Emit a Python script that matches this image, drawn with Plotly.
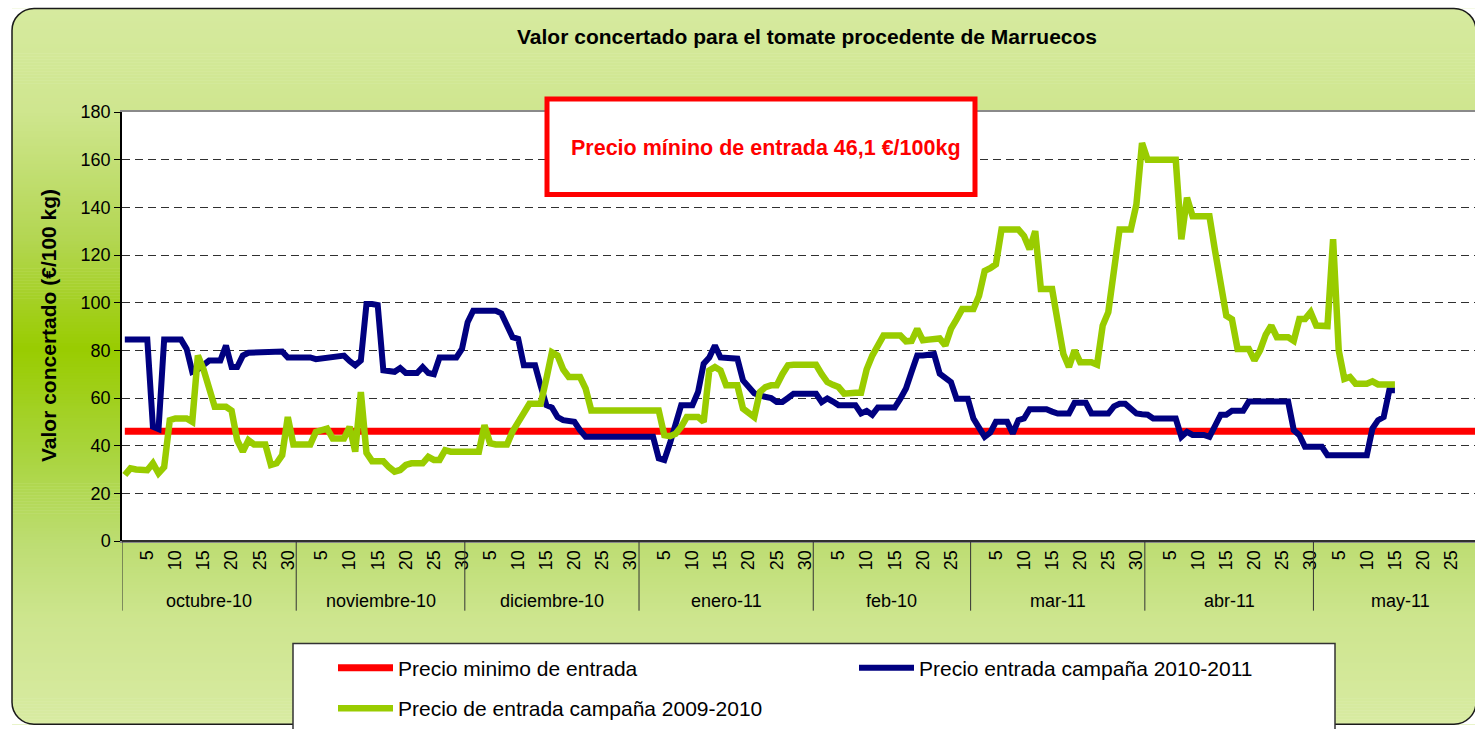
import plotly.graph_objects as go

FONT = "Liberation Sans, Arial, sans-serif"

# ---------------- data ----------------
months = ["octubre-10", "noviembre-10", "diciembre-10", "enero-11",
          "feb-10", "mar-11", "abr-11", "may-11"]
month_days = [31, 30, 31, 31, 28, 31, 30, 31]
min_price = 46.1

blue_oct = [84.5, 84.5, 84.5, 84.5, 84.5, 48, 47, 84.5, 84.5, 84.5, 84.5, 80.6, 71, 72, 74, 75.7,
            75.7, 75.7, 82, 73, 73, 77.8, 79, 79, 79, 79.2, 79.4, 79.5, 79.5, 77, 77]
blue_nov = [77, 77, 77, 76.3, 76.5, 76.8, 77, 77.3, 77.8, 75.5, 73.7, 75.7, 99.4, 99.4, 99,
            71.6, 71.3, 71, 72.6, 70.5, 70.5, 70.5, 73, 70.5, 70, 77, 77, 77, 77, 80.6]
blue_dec = [91.8, 96.6, 96.6, 96.6, 96.6, 96.6, 95.5, 90, 85.5, 84.8, 73.7, 73.7, 73.7, 65, 57,
            56, 52, 50.7, 50.5, 50, 46.5, 43.7, 43.7, 43.7, 43.7, 43.7, 43.7, 43.7, 43.7, 43.7, 43.7]
blue_jan = [43.7, 43.7, 43.7, 34.7, 34, 41, 49, 57, 57, 57, 62.5, 74.4, 77, 82, 77, 76.8,
            76.8, 76.5, 67.4, 64.8, 62, 61, 60.5, 60, 58.3, 58.3, 60, 61.8, 61.8, 61.8, 61.8]
blue_feb = [61.8, 58.3, 59.8, 58.5, 57, 57, 57, 57, 53.5, 54.6, 52.9, 56, 56, 56, 56, 59.7,
            64, 71, 77.8, 77.8, 77.8, 78.4, 70.2, 68.8, 66.7, 59.7, 59.7, 59.7]
blue_mar = [51.4, 47.5, 43.7, 45.5, 50, 50, 50, 45.1, 50.7, 51.4, 55.3, 55.3, 55.3, 55.3, 54.3,
            53.5, 53.5, 53.5, 58, 58, 58, 53.5, 53.5, 53.5, 53.5, 56.5, 57.6, 57.6, 55.5, 53.5, 53.2]
blue_apr = [53, 51.4, 51.4, 51.4, 51.4, 51.4, 43.7, 45.8, 44.5, 44.5, 44.5, 43.7, 48.5, 53, 53,
            54.6, 54.6, 54.6, 58.5, 58.5, 58.5, 58.5, 58.5, 58.5, 58.5, 58.5, 46.5, 44.4, 39.5, 39.5]
blue_may = [39.5, 39.5, 36, 36, 36, 36, 36, 36, 36, 36, 47.2, 50.7, 52, 63.2, 63.2]

green_oct = [27.7, 30.5, 30, 30, 29.7, 32.6, 28.4, 31, 50.7, 51.4, 51.4, 51.4, 50, 77.8, 72, 64,
             56.3, 56.3, 56.3, 54.7, 42.3, 37.5, 42.3, 40.5, 40.5, 40.5, 31.9, 32.6, 36, 52, 40.5]
green_nov = [40.5, 40.5, 40.5, 45.8, 46.5, 47.2, 43, 43, 43, 47.9, 37.5, 62.5, 37, 33.5, 33.5,
             33.5, 31, 29.1, 29.8, 31.9, 32.6, 32.6, 32.6, 35.3, 34, 34, 38.1, 37.5, 37.5, 37.5]
green_dec = [37.5, 37.5, 37.5, 48.6, 41, 40.5, 40.5, 40.5, 46, 50, 53.5, 57.6, 57.6, 57.6, 68,
             79.2, 77.8, 72, 68.8, 68.8, 68.8, 63.9, 54.8, 54.8, 54.8, 54.8, 54.8, 54.8, 54.8, 54.8, 54.8]
green_jan = [54.8, 54.8, 54.8, 54.8, 44.4, 44, 45, 47.9, 52, 52, 52, 50, 71.6, 73, 71.6, 65.3,
             65.3, 65.3, 55.6, 53.5, 52, 62.5, 64.6, 65.3, 65.3, 70, 73.7, 73.9, 73.9, 73.9, 73.9]
green_feb = [73.9, 70, 66.7, 65.5, 64.6, 61.8, 62.2, 62.2, 62.2, 72, 77.8, 82, 86.2, 86.2, 86.2,
             86.2, 83.8, 84, 89, 84.2, 84.5, 84.8, 85, 82, 89, 93, 97.3, 97.3]
green_mar = [97.3, 102.9, 113.3, 114.5, 116.1, 130.7, 130.7, 130.7, 130.7, 128, 122.4, 130, 105.7,
             105.7, 105.7, 92, 78.5, 73, 80, 75, 75, 75, 74, 90.4, 96, 113, 130.7, 130.7, 130.7,
             141.2, 167]
green_apr = [160, 160, 160, 160, 160, 160, 126.6, 144, 136.3, 136.3, 136.3, 136.3, 121.7, 108,
             94.5, 93, 80.6, 80.6, 80.6, 75.8, 80, 86.5, 90.4, 85.5, 85.5, 85.5, 84, 93.1, 93.1, 96]
green_may = [90.4, 90.2, 90.2, 126.6, 80, 68, 68.8, 66, 66, 66, 67, 65.7, 65.7, 65.7, 65.7]

day_ticks = [5, 10, 15, 20, 25, 30]

# ---------------- derived series ----------------
blue = blue_oct + blue_nov + blue_dec + blue_jan + blue_feb + blue_mar + blue_apr + blue_may
green = green_oct + green_nov + green_dec + green_jan + green_feb + green_mar + green_apr + green_may
n_days = sum(month_days)
x_all = list(range(n_days))
red = [min_price] * n_days

month_start = []
s = 0
for d in month_days:
    month_start.append(s)
    s += d

tickvals, ticktext = [], []
for ms, d in zip(month_start, month_days):
    for t in day_ticks:
        if t <= d:
            tickvals.append(ms + t - 1)
            ticktext.append(str(t))

# ---------------- geometry helpers ----------------
W, H = 1475, 729
PL, PR, PT, PB = 122, 1475, 112, 543


def fx(px):
    return (px - PL) / (PR - PL)


def fy(py):
    return (PB - py) / (PB - PT)


def P(px, py):
    return f"{fx(px):.5f},{fy(py):.5f}"


fig = go.Figure()

fig.add_trace(go.Scatter(x=x_all, y=red, mode="lines", name="Precio minimo de entrada",
                         line=dict(color="#FF0000", width=7), legend="legend"))
fig.add_trace(go.Scatter(x=x_all[:len(blue)], y=blue, mode="lines",
                         name="Precio entrada campaña 2010-2011",
                         line=dict(color="#000080", width=6), legend="legend3"))
fig.add_trace(go.Scatter(x=x_all[:len(green)], y=green, mode="lines",
                         name="Precio de entrada campaña 2009-2010",
                         line=dict(color="#99CC00", width=6.5), legend="legend2"))

shapes = []

# background gradient (style only)
stops = [(8, (0xd6, 0xea, 0x9f)), (110, (0xcf, 0xe6, 0x8f)), (240, (0xb3, 0xd6, 0x52)),
         (350, (0x99, 0xcc, 0x00)), (450, (0xa8, 0xd4, 0x3a)), (545, (0xbd, 0xdd, 0x72)),
         (620, (0xcd, 0xe5, 0x8e)), (727, (0xd8, 0xeb, 0xa2))]


def col_at(y):
    for (y0, c0), (y1, c1) in zip(stops[:-1], stops[1:]):
        if y0 <= y <= y1:
            t = (y - y0) / (y1 - y0)
            return "rgb(%d,%d,%d)" % tuple(round(a + (b - a) * t) for a, b in zip(c0, c1))
    return "rgb(%d,%d,%d)" % stops[-1][1]


BX0, BY0, BX1, BY1, R = 12, 8, 1476, 727, 22
step = 3
y = BY0
while y < BY1:
    y2 = min(y + step, BY1)
    shapes.append(dict(type="rect", xref="paper", yref="paper", layer="below",
                       x0=fx(BX0), x1=fx(BX1), y0=fy(y2 + 0.6), y1=fy(y),
                       fillcolor=col_at(y + step / 2), line=dict(width=0)))
    y = y2

k = 0.448
corner_masks = [
    f"M{P(BX0, BY0)} L{P(BX0 + R, BY0)} C{P(BX0 + R * k, BY0)} {P(BX0, BY0 + R * k)} {P(BX0, BY0 + R)} Z",
    f"M{P(BX1, BY0)} L{P(BX1, BY0 + R)} C{P(BX1, BY0 + R * k)} {P(BX1 - R * k, BY0)} {P(BX1 - R, BY0)} Z",
    f"M{P(BX1, BY1)} L{P(BX1 - R, BY1)} C{P(BX1 - R * k, BY1)} {P(BX1, BY1 - R * k)} {P(BX1, BY1 - R)} Z",
    f"M{P(BX0, BY1)} L{P(BX0, BY1 - R)} C{P(BX0, BY1 - R * k)} {P(BX0 + R * k, BY1)} {P(BX0 + R, BY1)} Z",
]
for pth in corner_masks:
    shapes.append(dict(type="path", xref="paper", yref="paper", layer="below", path=pth,
                       fillcolor="white", line=dict(width=0)))

border = (f"M{P(BX0 + R, BY0)} L{P(BX1 - R, BY0)} "
          f"C{P(BX1 - R * k, BY0)} {P(BX1, BY0 + R * k)} {P(BX1, BY0 + R)} "
          f"L{P(BX1, BY1 - R)} C{P(BX1, BY1 - R * k)} {P(BX1 - R * k, BY1)} {P(BX1 - R, BY1)} "
          f"L{P(BX0 + R, BY1)} C{P(BX0 + R * k, BY1)} {P(BX0, BY1 - R * k)} {P(BX0, BY1 - R)} "
          f"L{P(BX0, BY0 + R)} C{P(BX0, BY0 + R * k)} {P(BX0 + R * k, BY0)} {P(BX0 + R, BY0)} Z")
shapes.append(dict(type="path", xref="paper", yref="paper", layer="below", path=border,
                   line=dict(color="#1a1a1a", width=1.5)))

# white plot area
shapes.append(dict(type="rect", xref="paper", yref="paper", layer="below",
                   x0=0, x1=1, y0=0, y1=1, fillcolor="white", line=dict(width=0)))

# legend box
shapes.append(dict(type="rect", xref="paper", yref="paper", layer="below",
                   x0=fx(293), x1=fx(1335), y0=fy(745), y1=fy(646),
                   fillcolor="white", line=dict(color="#333333", width=1.5)))

# month separators under the axis
for ms in month_start + [n_days]:
    shapes.append(dict(type="line", xref="x", yref="paper", x0=ms - 0.5, x1=ms - 0.5,
                       y0=fy(543), y1=fy(613), line=dict(color="#333333", width=1)))

# darker bottom axis line (top border stays grey)
shapes.append(dict(type="line", xref="paper", yref="paper", layer="above",
                   x0=0, x1=1, y0=0, y1=0, line=dict(color="#303030", width=2)))

# annotation box
shapes.append(dict(type="rect", xref="paper", yref="paper", layer="above",
                   x0=fx(547), x1=fx(975), y0=fy(195), y1=fy(99),
                   fillcolor="white", line=dict(color="#FF0000", width=5)))

annotations = [
    dict(text="<b>Valor concertado para el tomate procedente de Marruecos</b>",
         xref="paper", yref="paper", x=fx(807), y=fy(36), xanchor="center", yanchor="middle",
         showarrow=False, font=dict(family=FONT, size=21, color="black")),
    dict(text="<b>Valor concertado (€/100 kg)</b>", textangle=-90,
         xref="paper", yref="paper", x=fx(48), y=fy(327), xanchor="center", yanchor="middle",
         showarrow=False, font=dict(family=FONT, size=21, color="black")),
    dict(text="<b>Precio mínino de entrada 46,1 €/100kg</b>",
         xref="paper", yref="paper", x=fx(766), y=fy(148), xanchor="center", yanchor="middle",
         showarrow=False, font=dict(family=FONT, size=21.5, color="#FF0000")),
]
for ms, d, name in zip(month_start, month_days, months):
    annotations.append(dict(text=name, xref="x", yref="paper", x=ms + d / 2 - 0.5, y=fy(603),
                            xanchor="center", yanchor="middle", showarrow=False,
                            font=dict(family=FONT, size=18, color="black")))

leg_common = dict(orientation="h", xanchor="left", yanchor="top", itemwidth=55,
                  bgcolor="rgba(0,0,0,0)", font=dict(family=FONT, size=21, color="black"))

fig.update_layout(
    width=W, height=H,
    margin=dict(l=PL, r=W - PR, t=PT, b=H - PB, pad=0),
    paper_bgcolor="white", plot_bgcolor="white",
    font=dict(family=FONT, color="black"),
    showlegend=True,
    shapes=shapes, annotations=annotations,
    xaxis=dict(range=[-0.5, 240.25], tickmode="array", tickvals=tickvals, ticktext=ticktext,
               tickangle=-90, tickfont=dict(family=FONT, size=18), ticks="",
               showgrid=False, zeroline=False, showline=True, linecolor="#8a8a8a",
               linewidth=2, mirror=True, fixedrange=True),
    yaxis=dict(range=[0, 180], tickmode="array", tickvals=list(range(0, 181, 20)),
               tickfont=dict(family=FONT, size=18), ticks="outside", ticklen=6,
               tickcolor="black", showline=True, linecolor="black", linewidth=1.5,
               showgrid=True, gridcolor="#303030", gridwidth=1, griddash="8px,5px",
               zeroline=False, fixedrange=True),
    legend=dict(x=fx(333), y=fy(650), **leg_common),
    legend3=dict(x=fx(854), y=fy(650), **leg_common),
    legend2=dict(x=fx(333), y=fy(691), **leg_common),
)

fig.write_html("out.html", config={"displayModeBar": False},
               post_script="document.body.style.margin='0px';")
